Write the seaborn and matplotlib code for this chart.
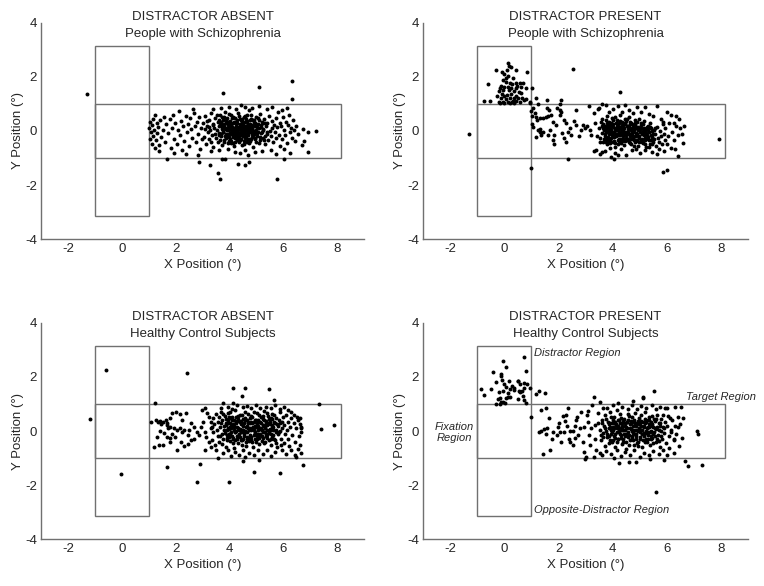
import pandas as pd
import matplotlib
matplotlib.use("Agg")
import matplotlib.pyplot as plt
import seaborn as sns
from matplotlib.patches import Rectangle

# ---- data (degrees of visual angle) ----
panel_titles = [
    ("DISTRACTOR ABSENT", "People with Schizophrenia"),
    ("DISTRACTOR PRESENT", "People with Schizophrenia"),
    ("DISTRACTOR ABSENT", "Healthy Control Subjects"),
    ("DISTRACTOR PRESENT", "Healthy Control Subjects"),
]
x_ticks = [-2, 0, 2, 4, 6, 8]
y_ticks = [-4, -2, 0, 2, 4]

# schizophrenia, distractor absent
sz_absent_tail = [
    (1.02, 0.12), (1.04, -0.28), (1.06, 0.33), (1.08, -0.05), (1.11, -0.47), (1.13, 0.22), (1.15, 0.45),
    (1.17, -0.18), (1.2, 0.05), (1.22, -0.62), (1.24, 0.58), (1.27, -0.35), (1.29, 0.31), (1.31, -0.08),
    (1.36, 0.14), (1.4, -0.52), (1.43, 0.4), (1.47, -0.22), (1.52, 0.03), (1.58, 0.52), (1.62, -0.4),
    (1.66, 0.25), (1.72, -0.08), (1.78, 0.43), (1.82, -0.63), (1.86, 0.1), (1.91, 0.6), (1.95, -0.28),
    (1.99, 0.3), (2.04, -0.5), (2.08, 0.05), (2.12, 0.73), (2.16, -0.15), (2.2, 0.38), (2.25, -0.7),
    (2.29, 0.17), (2.33, -0.36), (2.37, 0.55), (2.42, -0.02), (2.46, 0.27), (2.5, -0.55), (2.55, 0.47),
    (2.58, 0.08), (2.62, -0.25), (2.67, 0.65), (2.71, 0.18), (2.75, -0.42), (2.79, 0.35), (2.83, -0.12),
    (2.87, 0.52), (2.91, -0.68), (2.95, 0.1), (2.98, -0.3), (1.4, -0.75), (1.95, -0.82), (2.4, -0.85),
    (2.65, 0.82),
]
sz_absent_core = [
    (3.02, 0.31), (3.05, -0.22), (3.08, 0.08), (3.11, 0.55), (3.14, -0.47), (3.17, 0.19), (3.2, -0.05),
    (3.23, 0.42), (3.26, -0.31), (3.29, 0.02), (3.32, 0.66), (3.35, -0.14), (3.38, 0.27), (3.41, -0.58),
    (3.44, 0.11), (3.47, 0.48), (3.5, -0.26), (3.53, 0.04), (3.56, 0.35), (3.59, -0.41), (3.61, 0.18),
    (3.63, -0.08), (3.66, 0.59), (3.68, 0.25), (3.7, -0.19), (3.72, 0.07), (3.74, -0.52), (3.76, 0.41),
    (3.78, -0.03), (3.8, 0.16), (3.82, -0.33), (3.84, 0.71), (3.86, 0.29), (3.88, -0.11), (3.9, 0.02),
    (3.92, 0.47), (3.94, -0.45), (3.96, 0.21), (3.98, -0.24), (4.0, 0.1), (4.02, 0.36), (4.04, -0.06),
    (4.06, 0.6), (4.08, -0.37), (4.1, 0.14), (4.12, -0.16), (4.14, 0.3), (4.16, 0.03), (4.18, -0.55),
    (4.2, 0.49), (4.22, -0.27), (4.24, 0.19), (4.26, -0.02), (4.28, 0.39), (4.3, -0.13), (4.32, 0.08),
    (4.34, 0.68), (4.36, -0.4), (4.38, 0.25), (4.4, -0.07), (4.42, 0.12), (4.44, -0.31), (4.46, 0.44),
    (4.48, 0.0), (4.5, -0.2), (4.52, 0.3), (4.54, 0.06), (4.56, -0.48), (4.58, 0.55), (4.6, -0.1),
    (4.62, 0.2), (4.64, -0.28), (4.66, 0.37), (4.68, 0.04), (4.7, -0.15), (4.72, 0.78), (4.74, 0.15),
    (4.76, -0.36), (4.78, 0.27), (4.8, -0.04), (4.82, 0.46), (4.84, -0.22), (4.86, 0.09), (4.88, -0.6),
    (4.9, 0.33), (4.92, -0.09), (4.94, 0.18), (4.96, -0.3), (4.98, 0.52), (5.0, 0.03), (5.03, -0.17),
    (5.06, 0.26), (5.09, -0.43), (5.12, 0.11), (5.15, 0.62), (5.18, -0.07), (5.21, 0.35), (5.24, -0.25),
    (5.27, 0.05), (5.3, 0.44), (5.33, -0.5), (5.36, 0.17), (5.39, -0.12), (5.42, 0.28), (5.45, -0.33),
    (5.48, 0.57), (5.51, 0.0), (5.54, -0.2), (5.57, 0.38), (5.6, 0.1), (5.63, -0.41), (5.66, 0.22),
    (5.69, -0.05), (5.72, 0.47), (5.75, -0.27), (5.78, 0.14), (5.81, 0.7), (5.84, -0.14), (5.87, 0.3),
    (5.9, -0.55),
    (3.62, 0.42), (3.67, -0.33), (3.71, 0.13), (3.75, -0.04), (3.79, 0.52), (3.83, 0.09), (3.87, -0.27),
    (3.91, 0.33), (3.95, -0.12), (3.99, 0.62), (4.03, 0.2), (4.07, -0.44), (4.11, 0.04), (4.15, 0.51),
    (4.19, -0.09), (4.23, 0.28), (4.27, -0.35), (4.31, 0.15), (4.35, -0.18), (4.39, 0.45), (4.43, 0.05),
    (4.47, -0.52), (4.51, 0.22), (4.55, -0.03), (4.59, 0.34), (4.63, -0.2), (4.67, 0.6), (4.71, 0.08),
    (4.75, -0.45), (4.79, 0.19), (4.83, -0.11), (4.87, 0.39), (4.91, 0.01), (4.95, -0.25), (4.99, 0.24),
    (5.04, -0.08), (5.08, 0.49), (5.13, -0.32), (5.17, 0.16), (5.22, -0.02), (5.26, 0.31), (5.31, -0.18),
    (3.55, 0.6), (3.48, -0.1), (3.4, 0.22), (3.33, -0.4), (3.25, 0.15), (3.18, 0.38),
    (3.81, 0.24), (3.85, -0.18), (3.89, 0.4), (3.93, 0.06), (3.97, -0.36), (4.01, 0.28), (4.05, -0.1),
    (4.09, 0.48), (4.13, -0.23), (4.17, 0.12), (4.21, -0.42), (4.25, 0.33), (4.29, 0.02), (4.33, -0.26),
    (4.37, 0.56), (4.41, 0.19), (4.45, -0.14), (4.49, 0.38), (4.53, -0.38), (4.57, 0.13), (4.61, 0.43),
    (4.65, -0.07), (4.69, 0.26), (4.73, -0.3), (4.77, 0.04), (4.81, 0.58), (4.85, 0.21), (4.89, -0.16),
    (4.93, 0.42), (4.97, -0.02),
    (5.93, 0.18), (5.96, -0.3), (6.0, 0.5), (6.03, 0.05), (6.06, -0.15), (6.1, 0.35), (6.14, -0.45),
    (6.18, 0.22), (6.22, 0.6), (6.26, -0.05), (6.3, 0.12), (6.34, -0.25), (6.38, 0.4), (6.42, 0.05),
    (6.46, -0.38), (6.5, 0.18), (6.55, -0.1), (6.75, 0.07), (6.91, -0.05), (7.22, -0.01), (6.91, -0.76),
    (6.79, -0.36), (6.69, -0.52), (6.05, -0.65), (6.25, -0.8), (5.95, 0.78), (6.15, 0.85),
    (3.6, -0.72), (3.95, -0.68), (4.22, -0.76), (4.4, -0.82), (4.6, -0.7), (4.95, -0.78), (5.2, -0.74),
    (5.55, -0.7), (5.75, -0.86), (3.3, -0.75), (2.85, -0.88), (4.7, -0.9),
    (3.7, 0.85), (4.0, 0.9), (4.25, 0.82), (4.45, 0.95), (4.6, 0.9), (4.85, 0.86), (5.1, 0.92),
    (5.4, 0.8), (5.6, 0.88), (3.4, 0.8),
]
sz_absent_dense = [
    (3.64, 0.3), (3.69, -0.12), (3.73, 0.5), (3.77, 0.2), (3.81, -0.4), (3.86, 0.1), (3.9, -0.2),
    (3.94, 0.35), (3.98, 0.05), (4.02, -0.3), (4.06, 0.22), (4.1, -0.02), (4.14, -0.45), (4.18, 0.35),
    (4.22, 0.06), (4.26, -0.2), (4.3, 0.28), (4.34, -0.05), (4.38, -0.35), (4.42, 0.4), (4.46, 0.15),
    (4.5, -0.08), (4.54, 0.5), (4.58, -0.25), (4.62, 0.02), (4.66, -0.42), (4.7, 0.25), (4.74, -0.02),
    (4.78, 0.42), (4.82, -0.3), (4.86, 0.12), (4.9, -0.12), (4.94, 0.3), (4.98, -0.4), (5.02, 0.15),
    (5.06, -0.05), (5.1, 0.4), (5.14, -0.22), (5.19, 0.22), (5.24, 0.08), (5.29, -0.35), (5.34, 0.3),
    (5.4, -0.02), (3.6, -0.15), (3.7, 0.35), (4.44, 0.25), (4.64, 0.1), (4.84, -0.02), (4.04, 0.12),
    (4.24, -0.1),
]
sz_absent_out = [
    (-1.3, 1.35), (3.75, 1.4), (5.12, 1.64), (6.33, 1.86), (6.32, 1.17), (1.69, -1.05), (2.86, -1.13),
    (3.27, -1.26), (3.56, -1.54), (3.67, -1.79), (5.76, -1.79), (4.31, -1.23), (4.57, -1.26),
    (4.72, -1.15), (3.73, -1.05), (3.85, -1.05), (6.04, -1.02),
]

# schizophrenia, distractor present
sz_present_distr = [
    (0.14, 2.51), (0.23, 2.38), (0.1, 2.26), (-0.09, 2.2), (-0.33, 2.25), (0.41, 2.25), (0.84, 2.2),
    (0.0, 2.1), (0.12, 2.05), (0.06, 1.95), (0.33, 1.95), (-0.62, 1.73), (0.19, 1.79), (0.41, 1.79),
    (0.56, 1.79), (0.7, 1.79), (-0.12, 1.68), (0.0, 1.64), (-0.15, 1.58), (0.25, 1.58), (0.43, 1.58),
    (0.62, 1.62), (0.78, 1.6), (1.02, 1.58), (-0.06, 1.51), (0.16, 1.51), (0.37, 1.48), (0.53, 1.46),
    (-0.28, 1.31), (-0.09, 1.36), (0.09, 1.33), (0.25, 1.36), (0.43, 1.31), (0.65, 1.23), (-0.12, 1.21),
    (0.04, 1.19), (0.19, 1.21), (0.35, 1.23), (0.49, 1.21), (0.8, 1.17), (-0.21, 1.09), (-0.06, 1.06),
    (0.12, 1.09), (0.28, 1.06), (0.43, 1.11), (0.58, 1.09), (0.74, 1.15), (0.93, 1.09), (-0.75, 1.11),
    (-0.53, 1.11), (1.17, 1.23), (0.96, 1.04), (-0.16, 1.02), (0.0, 1.02), (0.21, 1.02), (0.37, 1.02),
    (0.06, 1.83), (0.28, 1.73), (-0.06, 1.89), (0.47, 1.68), (-0.21, 1.48), (0.18, 2.4), (-0.02, 1.3),
    (0.3, 1.12), (0.6, 1.4), (0.15, 1.62),
]
sz_present_target = [
    (1.05, 0.84), (1.23, 0.99), (1.57, 1.14), (2.09, 1.15), (2.06, 0.99), (1.0, 0.74), (1.02, 0.57),
    (1.12, 0.65), (1.02, 0.25), (1.07, 0.16), (1.17, 0.53), (1.23, 0.04), (1.32, -0.05), (1.17, -0.21),
    (1.3, 0.47), (1.44, 0.47), (1.52, 0.53), (1.6, 0.57), (1.73, 0.59), (1.57, 0.84), (1.64, 0.78),
    (1.79, 0.35), (1.91, 0.22), (1.84, -0.15), (1.85, -0.49), (1.94, 0.84), (2.04, 0.59), (2.1, 0.69),
    (2.19, 0.41), (2.26, 0.28), (2.28, -0.42), (2.35, -0.02), (2.41, 0.12), (2.47, -0.15), (2.63, 0.78),
    (2.56, 0.37), (2.65, 0.22), (2.75, -0.17), (2.84, 0.04), (2.9, 0.22), (2.96, 0.12), (3.05, 0.2),
    (3.12, 0.94), (3.17, 0.04), (3.21, -0.15), (3.3, -0.74), (3.46, 0.81), (3.62, 0.99), (3.62, -0.77),
    (1.3, 0.07), (1.36, -0.15), (1.44, -0.05), (1.62, -0.15), (1.69, 0.04), (2.14, -0.09), (2.19, -0.25),
    (1.81, -0.33), (2.04, 0.78), (1.2, 0.4), (3.35, 0.3), (3.42, -0.2),
    (3.5, 0.1), (3.53, -0.25), (3.56, 0.32), (3.59, -0.08), (3.62, 0.18), (3.65, -0.4), (3.68, 0.05),
    (3.71, -0.18), (3.74, 0.42), (3.77, -0.02), (3.8, -0.5), (3.83, 0.22), (3.86, -0.12), (3.89, 0.08),
    (3.92, -0.33), (3.95, 0.3), (3.98, -0.05), (4.01, 0.13), (4.04, -0.24), (4.07, 0.52), (4.1, -0.6),
    (4.13, 0.02), (4.16, 0.27), (4.19, -0.15), (4.22, 0.1), (4.25, -0.38), (4.28, 0.38), (4.31, -0.08),
    (4.34, 0.16), (4.37, -0.28), (4.4, 0.05), (4.43, -0.52), (4.46, 0.25), (4.49, -0.12), (4.52, 0.44),
    (4.55, -0.02), (4.58, -0.3), (4.61, 0.14), (4.64, -0.45), (4.67, 0.3), (4.7, -0.15), (4.73, 0.03),
    (4.76, -0.25), (4.79, 0.2), (4.82, -0.4), (4.85, 0.1), (4.88, -0.08), (4.91, 0.35), (4.94, -0.55),
    (4.97, -0.18), (5.0, 0.08), (5.03, -0.32), (5.06, 0.22), (5.09, -0.1), (5.12, -0.45), (5.15, 0.12),
    (5.18, -0.25), (5.21, 0.02), (5.24, -0.6), (5.27, -0.15), (5.3, 0.2), (5.33, -0.35), (5.36, -0.05),
    (5.39, -0.5), (5.42, 0.1), (5.45, -0.22), (5.48, -0.4), (5.51, 0.05), (5.54, -0.3), (5.57, -0.12),
    (5.6, -0.55), (5.63, 0.15), (5.66, -0.25), (5.7, -0.42), (5.74, 0.0), (5.78, -0.2), (5.82, -0.5),
    (5.86, 0.25), (5.9, -0.1), (5.95, -0.35),
    (3.55, -0.42), (3.6, 0.45), (3.64, 0.12), (3.69, -0.3), (3.73, 0.2), (3.78, 0.55), (3.82, -0.22),
    (3.86, 0.35), (3.9, -0.45), (3.94, 0.05), (3.97, 0.48), (4.0, -0.14), (4.03, 0.25), (4.06, -0.36),
    (4.09, 0.08), (4.12, -0.2), (4.15, 0.42), (4.18, -0.5), (4.21, 0.18), (4.24, -0.05), (4.27, 0.6),
    (4.3, -0.3), (4.33, 0.0), (4.36, 0.32), (4.39, -0.2), (4.42, 0.12), (4.45, -0.38), (4.48, 0.38),
    (4.51, -0.25), (4.54, 0.2), (4.57, -0.08), (4.6, 0.5), (4.63, -0.18), (4.66, 0.05), (4.69, -0.5),
    (4.72, 0.24), (4.75, -0.05), (4.78, -0.35), (4.81, 0.4), (4.84, -0.2), (4.87, 0.15), (4.9, -0.32),
    (4.93, 0.02), (4.96, 0.45), (4.99, -0.42), (5.02, -0.05), (5.05, 0.3), (5.08, -0.28), (5.11, 0.0),
    (5.14, -0.15), (5.17, 0.38), (5.2, -0.48), (5.23, -0.08), (5.26, 0.15), (5.29, -0.3), (5.32, 0.05),
    (5.35, -0.6), (5.38, 0.28), (5.41, -0.15), (5.44, 0.0), (5.47, -0.5),
    (3.72, 0.08), (3.76, -0.28), (3.8, 0.3), (3.84, 0.0), (3.88, -0.38), (3.92, 0.18), (3.96, -0.15),
    (4.0, 0.4), (4.04, -0.02), (4.08, -0.45), (4.12, 0.3), (4.16, -0.1), (4.2, 0.05), (4.24, -0.3),
    (4.28, 0.15), (4.32, -0.45), (4.36, 0.22), (4.4, -0.12), (4.44, 0.45), (4.48, -0.02), (4.52, -0.35),
    (4.56, 0.18), (4.6, -0.1), (4.64, 0.35), (4.68, -0.28), (4.72, -0.08), (4.76, 0.15), (4.8, -0.55),
    (4.84, 0.28), (4.88, -0.2),
    (3.3, 0.65), (3.5, 0.85), (3.75, 0.95), (3.85, 0.72), (4.0, 0.8), (4.2, 0.92), (4.35, 0.7),
    (4.45, 0.95), (4.6, 0.78), (4.75, 0.65), (4.9, 0.88), (5.05, 0.7), (5.2, 0.9), (5.35, 0.62),
    (5.5, 0.55), (5.65, 0.92), (5.8, 0.45), (6.0, 0.7), (6.15, 0.6), (6.35, 0.55), (6.45, 0.45),
    (6.25, 0.3),
    (5.85, 0.35), (5.95, 0.12), (6.05, -0.2), (6.1, 0.3), (6.2, -0.05), (6.28, -0.35), (6.35, 0.2),
    (6.42, -0.15), (6.5, 0.1), (6.6, -0.45), (6.65, 0.2), (6.0, -0.5), (6.15, -0.62), (5.7, -0.68),
    (6.3, -0.65), (6.55, -0.1),
    (3.4, -0.7), (3.7, -0.75), (3.9, -0.62), (4.1, -0.8), (4.3, -0.68), (4.5, -0.88), (4.7, -0.72),
    (4.85, -0.65), (5.0, -0.82), (5.2, -0.7), (5.45, -0.78), (5.65, -0.85), (5.9, -0.75), (4.2, -0.9),
    (3.55, -0.85),
]
sz_present_dense = [
    (3.66, 0.25), (3.7, -0.1), (3.75, -0.4), (3.79, 0.12), (3.83, -0.3), (3.87, 0.2), (3.91, -0.05),
    (3.95, -0.25), (3.99, 0.22), (4.03, -0.42), (4.07, 0.1), (4.11, -0.12), (4.15, 0.15), (4.19, -0.32),
    (4.23, 0.28), (4.27, -0.15), (4.31, 0.08), (4.35, -0.38), (4.39, 0.18), (4.43, -0.02), (4.47, 0.3),
    (4.51, -0.15), (4.55, 0.08), (4.59, -0.42), (4.63, 0.25), (4.67, -0.12), (4.71, 0.1), (4.75, -0.3),
    (4.79, 0.02), (4.83, 0.22), (4.87, -0.38), (4.91, -0.1), (4.95, 0.15), (4.99, -0.25), (5.03, 0.12),
    (5.07, -0.4), (5.11, 0.25), (5.15, -0.05), (5.19, -0.32), (5.25, 0.08), (5.31, -0.22), (5.37, 0.15),
    (5.43, -0.35), (5.5, -0.12), (5.56, 0.1),
]
sz_present_out = [
    (-1.3, -0.1), (0.99, -1.36), (2.52, 2.28), (4.28, 1.45), (7.94, -0.29), (5.87, -1.52), (6.0, -1.45),
    (2.36, -1.05), (3.93, -0.97), (4.04, -1.05), (6.41, -0.93),
]

# healthy controls, distractor absent
hc_absent_tail = [
    (1.07, 0.35), (1.26, 0.41), (1.35, 0.32), (1.42, 0.37), (1.47, 0.26), (1.54, 0.33), (1.63, 0.41),
    (1.69, 0.31), (1.81, 0.47), (1.88, 0.65), (2.0, 0.72), (2.16, 0.63), (2.25, 0.41), (2.37, 0.68),
    (1.67, 0.22), (1.73, 0.1), (1.81, 0.16), (1.94, 0.1), (2.06, 0.04), (2.16, 0.1), (2.25, -0.02),
    (2.33, 0.04), (1.88, -0.11), (1.96, -0.23), (1.81, -0.27), (1.69, -0.21), (1.57, -0.06),
    (1.42, 0.01), (1.3, -0.23), (1.2, -0.58), (1.38, -0.52), (1.54, -0.52), (1.79, -0.4), (2.06, -0.7),
    (2.31, -0.56), (2.46, -0.48), (2.19, -0.4), (2.56, -0.33), (2.47, -0.15), (2.49, 0.04), (2.56, 0.28),
    (2.68, 0.16), (2.78, -0.02), (2.86, -0.15), (2.7, -0.31), (2.93, 0.16), (3.02, 0.35), (3.0, 0.78),
    (3.09, 0.86), (3.17, 0.65), (3.23, 0.51), (3.3, 0.35), (3.36, 0.16), (3.11, -0.02), (3.15, -0.23),
    (3.23, -0.4), (3.31, -0.58), (3.11, -0.7), (3.57, -0.99), (3.77, 1.02), (4.14, 1.02),
]
hc_absent_core = [
    (3.32, 0.12), (3.35, -0.35), (3.38, 0.48), (3.41, -0.05), (3.44, 0.25), (3.47, -0.52), (3.5, 0.62),
    (3.53, 0.02), (3.56, -0.2), (3.59, 0.35), (3.62, -0.42), (3.65, 0.15), (3.68, 0.72), (3.71, -0.1),
    (3.74, 0.4), (3.77, -0.3), (3.8, 0.05), (3.83, 0.55), (3.86, -0.58), (3.89, 0.22), (3.92, -0.15),
    (3.95, 0.65), (3.98, 0.08), (4.01, -0.38), (4.04, 0.3), (4.07, -0.02), (4.1, 0.5), (4.13, -0.25),
    (4.16, 0.18), (4.19, -0.62), (4.22, 0.78), (4.25, 0.0), (4.28, 0.38), (4.31, -0.45), (4.34, 0.12),
    (4.37, -0.12), (4.4, 0.6), (4.43, 0.25), (4.46, -0.32), (4.49, 0.05), (4.52, 0.45), (4.55, -0.18),
    (4.58, 0.7), (4.61, -0.55), (4.64, 0.2), (4.67, -0.05), (4.7, 0.35), (4.73, -0.38), (4.76, 0.1),
    (4.79, 0.55), (4.82, -0.22), (4.85, 0.28), (4.88, -0.6), (4.91, 0.02), (4.94, 0.42), (4.97, -0.3),
    (5.0, 0.15), (5.03, 0.68), (5.06, -0.1), (5.09, 0.32), (5.12, -0.48), (5.15, 0.08), (5.18, 0.5),
    (5.21, -0.2), (5.24, 0.22), (5.27, -0.02), (5.3, 0.75), (5.33, -0.4), (5.36, 0.38), (5.39, 0.05),
    (5.42, -0.25), (5.45, 0.55), (5.48, -0.08), (5.51, 0.25), (5.54, -0.5), (5.57, 0.12), (5.6, 0.62),
    (5.63, -0.15), (5.66, 0.35), (5.69, -0.35), (5.72, 0.02), (5.75, 0.48), (5.78, -0.6), (5.81, 0.2),
    (5.84, -0.05), (5.87, 0.7), (5.9, 0.3), (5.93, -0.28), (5.96, 0.1), (5.99, 0.5), (6.02, -0.45),
    (6.05, 0.22), (6.08, -0.1), (6.11, 0.6), (6.14, 0.05), (6.17, -0.3), (6.2, 0.35), (6.23, -0.55),
    (6.26, 0.15), (6.3, 0.48), (6.35, -0.15), (6.4, 0.28), (6.45, -0.4), (6.5, 0.1), (6.55, 0.4),
    (6.6, -0.2), (6.64, 0.25), (6.62, -0.5), (6.65, 0.12),
    (3.6, 0.5), (3.64, -0.18), (3.68, 0.28), (3.72, -0.48), (3.76, 0.62), (3.8, 0.18), (3.84, -0.08),
    (3.88, 0.45), (3.92, -0.35), (3.96, 0.3), (4.0, -0.12), (4.04, 0.7), (4.08, 0.12), (4.12, -0.45),
    (4.16, 0.42), (4.2, -0.05), (4.24, 0.28), (4.28, -0.3), (4.32, 0.55), (4.36, 0.05), (4.4, -0.22),
    (4.44, 0.38), (4.48, -0.5), (4.52, 0.18), (4.56, -0.02), (4.6, 0.48), (4.64, -0.3), (4.68, 0.62),
    (4.72, 0.08), (4.76, -0.15), (4.8, 0.32), (4.84, -0.42), (4.88, 0.15), (4.92, 0.72), (4.96, -0.08),
    (5.0, 0.4), (5.04, -0.3), (5.08, 0.2), (5.12, 0.58), (5.16, -0.15), (5.2, 0.05), (5.24, 0.45),
    (5.28, -0.45), (5.32, 0.18), (5.36, -0.1), (5.4, 0.65), (5.44, 0.3), (5.48, -0.35), (5.52, 0.02),
    (5.56, 0.48), (5.6, -0.22), (5.64, 0.15), (5.68, 0.58), (5.72, -0.45), (5.76, 0.25), (5.8, -0.12),
    (5.84, 0.42), (5.88, 0.0), (5.92, -0.5), (5.96, 0.32),
    (3.9, 0.02), (3.94, 0.4), (3.98, -0.22), (4.02, 0.15), (4.06, 0.48), (4.1, -0.18), (4.14, 0.25),
    (4.18, 0.02), (4.22, -0.35), (4.26, 0.5), (4.3, 0.15), (4.34, -0.18), (4.38, 0.32), (4.42, -0.05),
    (4.46, 0.6), (4.5, -0.28), (4.54, 0.28), (4.58, 0.0), (4.62, -0.4), (4.66, 0.42), (4.7, 0.12),
    (4.74, -0.25), (4.78, 0.3), (4.82, 0.05), (4.86, 0.5), (4.9, -0.15), (4.94, 0.2), (4.98, -0.42),
    (5.02, 0.28), (5.06, 0.05), (5.1, -0.25), (5.14, 0.35), (5.18, 0.1), (5.22, -0.38), (5.26, 0.55),
    (5.3, 0.2), (5.34, -0.05), (5.38, 0.3), (5.42, -0.15), (5.46, 0.45), (5.5, 0.08), (5.54, -0.3),
    (5.58, 0.22),
    (3.7, 0.85), (3.95, 0.9), (4.1, 0.82), (4.3, 0.95), (4.5, 0.88), (4.65, 0.92), (4.8, 0.85),
    (5.0, 0.95), (5.15, 0.85), (5.35, 0.9), (5.55, 0.85), (5.7, 0.95), (5.9, 0.82), (6.05, 0.9),
    (6.2, 0.78), (6.3, 0.7), (6.4, 0.6), (6.52, 0.5),
    (3.5, -0.7), (3.75, -0.8), (3.95, -0.72), (4.05, -0.92), (4.2, -0.78), (4.35, -0.88), (4.5, -0.7),
    (4.6, -0.95), (4.75, -0.8), (4.9, -0.88), (5.05, -0.72), (5.25, -0.85), (5.4, -0.7), (5.55, -0.92),
    (5.7, -0.78), (5.95, -0.7), (6.1, -0.85), (6.3, -0.72), (6.45, -0.9), (6.55, -0.65),
    (6.63, 0.47), (6.65, 0.16), (6.65, -0.03),
]
hc_absent_dense = [
    (3.86, 0.3), (3.9, -0.25), (3.94, 0.1), (3.98, 0.52), (4.02, -0.1), (4.06, 0.2), (4.1, 0.4),
    (4.14, -0.3), (4.18, 0.15), (4.22, -0.05), (4.26, 0.32), (4.3, -0.2), (4.34, 0.45), (4.38, 0.08),
    (4.42, -0.32), (4.46, 0.25), (4.5, 0.05), (4.54, -0.12), (4.58, 0.4), (4.62, 0.15), (4.66, -0.22),
    (4.7, 0.28), (4.74, 0.02), (4.78, 0.48), (4.82, -0.32), (4.86, 0.1), (4.9, 0.35), (4.94, -0.05),
    (4.98, 0.18), (5.02, -0.2), (5.06, 0.42), (5.1, 0.1), (5.14, -0.1), (5.18, 0.28), (5.22, 0.02),
    (5.26, -0.25), (5.3, 0.4), (5.34, 0.12), (5.38, -0.18), (5.42, 0.22), (5.46, 0.0), (5.5, 0.35),
    (5.54, -0.1), (5.58, 0.45), (5.62, 0.05), (5.66, -0.3), (5.7, 0.3), (5.74, -0.02),
]
hc_absent_out = [
    (-1.17, 0.46), (-0.59, 2.26), (-0.02, -1.6), (2.44, 2.16), (4.14, 1.6), (4.6, 1.6), (5.46, 1.55),
    (4.47, 1.29), (5.68, 1.16), (7.33, 1.0), (7.4, 0.07), (7.91, 0.23), (1.22, 1.02), (1.67, -1.32),
    (2.9, -1.22), (2.81, -1.87), (3.97, -1.87), (4.9, -1.5), (5.88, -1.55), (6.75, -1.25), (6.67, -0.8),
    (6.5, -0.98), (5.12, -1.09), (4.5, -1.1),
]

# healthy controls, distractor present
hc_present_distr = [
    (-0.04, 2.59), (0.71, 2.72), (-0.43, 2.2), (0.06, 2.35), (0.78, 2.22), (-0.11, 2.1), (-0.85, 1.56),
    (-0.74, 1.33), (-0.49, 1.57), (-0.33, 1.83), (-0.1, 1.88), (-0.02, 1.73), (0.16, 1.85), (-0.06, 1.48),
    (0.06, 1.64), (0.22, 1.54), (0.34, 1.6), (0.36, 1.52), (0.49, 1.85), (0.56, 1.73), (0.72, 1.76),
    (0.73, 1.6), (0.65, 1.48), (0.83, 1.73), (0.95, 1.58), (-0.18, 1.23), (-0.23, 1.18), (-0.12, 1.09),
    (-0.33, 1.01), (-0.18, 1.01), (-0.04, 1.09), (0.06, 1.23), (0.14, 1.27), (0.49, 1.17), (0.68, 1.31),
    (0.74, 1.16), (0.78, 1.02), (0.59, 1.43), (1.17, 1.36), (1.26, 1.48), (1.5, 1.4), (1.0, 0.53),
    (1.35, 0.79), (1.52, 0.84), (-0.12, 2.04), (0.5, 1.86), (0.55, 1.49), (0.21, 1.25), (0.01, 1.05),
    (-0.19, 1.46), (0.12, 1.39), (0.29, 1.66),
]
hc_present_target = [
    (1.26, -0.05), (1.36, 0.0), (1.48, 0.07), (1.57, 0.12), (1.64, 0.47), (1.54, -0.1), (1.42, -0.86),
    (1.67, -0.69), (1.98, 0.16), (1.81, -0.05), (1.94, -0.15), (2.04, -0.02), (2.1, -0.42), (2.16, 0.57),
    (2.28, 0.59), (2.25, 0.38), (2.36, 0.84), (2.41, 0.0), (2.38, -0.3), (2.44, -0.42), (2.53, -0.52),
    (2.59, 0.2), (2.65, 0.41), (2.72, -0.15), (2.84, 0.69), (2.81, 0.1), (2.9, -0.4), (2.93, -0.79),
    (3.0, -0.95), (3.05, 0.59), (3.09, 0.35), (3.12, -0.15), (3.17, -0.52), (3.25, 0.96), (3.33, 0.22),
    (3.4, -0.7), (3.46, 0.65), (3.56, -0.15), (3.62, -0.89), (3.64, 0.84), (2.2, -0.05),
    (2.0, 0.3), (2.55, 0.0), (2.7, 0.5), (2.95, 0.15), (3.2, 0.1), (3.35, -0.3), (3.45, 0.3),
    (2.6, -0.25), (3.1, 0.75), (2.3, 0.2), (1.75, -0.3),
    (3.55, 0.05), (3.58, -0.35), (3.61, 0.42), (3.64, -0.08), (3.67, 0.2), (3.7, -0.55), (3.73, 0.6),
    (3.76, 0.0), (3.79, -0.22), (3.82, 0.35), (3.85, -0.45), (3.88, 0.12), (3.91, 0.7), (3.94, -0.12),
    (3.97, 0.3), (4.0, -0.32), (4.03, 0.05), (4.06, 0.5), (4.09, -0.6), (4.12, 0.22), (4.15, -0.05),
    (4.18, 0.4), (4.21, -0.28), (4.24, 0.1), (4.27, 0.62), (4.3, -0.15), (4.33, 0.28), (4.36, -0.48),
    (4.39, 0.02), (4.42, 0.45), (4.45, -0.2), (4.48, 0.15), (4.51, -0.65), (4.54, 0.32), (4.57, -0.05),
    (4.6, 0.55), (4.63, -0.35), (4.66, 0.08), (4.69, 0.38), (4.72, -0.18), (4.75, 0.2), (4.78, -0.52),
    (4.81, 0.02), (4.84, 0.65), (4.87, -0.1), (4.9, 0.3), (4.93, -0.4), (4.96, 0.12), (4.99, 0.48),
    (5.02, -0.22), (5.05, 0.05), (5.08, -0.58), (5.11, 0.35), (5.14, -0.08), (5.17, 0.2), (5.2, 0.72),
    (5.23, -0.3), (5.26, 0.1), (5.29, 0.42), (5.32, -0.15), (5.35, 0.25), (5.38, -0.5), (5.41, 0.0),
    (5.44, 0.55), (5.47, -0.25), (5.5, 0.15), (5.53, -0.05), (5.56, 0.38), (5.59, -0.42), (5.62, 0.08),
    (5.65, 0.6), (5.68, -0.15), (5.71, 0.28), (5.74, -0.6), (5.77, 0.0), (5.8, 0.45), (5.83, -0.3),
    (5.86, 0.15), (5.9, -0.08), (5.94, 0.35), (5.98, -0.45), (6.02, 0.2), (6.06, 0.55), (6.1, -0.2),
    (6.15, 0.05), (6.2, 0.4), (6.25, -0.35), (6.3, 0.2), (6.35, -0.1), (6.4, 0.5),
    (3.6, 0.28), (3.65, -0.22), (3.7, 0.12), (3.75, 0.45), (3.8, -0.1), (3.85, 0.25), (3.9, -0.35),
    (3.95, 0.5), (4.0, 0.15), (4.05, -0.18), (4.1, 0.35), (4.15, -0.42), (4.2, 0.2), (4.25, -0.05),
    (4.3, 0.48), (4.35, 0.1), (4.4, -0.3), (4.45, 0.3), (4.5, -0.1), (4.55, 0.62), (4.6, -0.5),
    (4.65, 0.25), (4.7, 0.0), (4.75, -0.35), (4.8, 0.4), (4.85, -0.2), (4.9, 0.05), (4.95, -0.55),
    (5.0, 0.3), (5.05, 0.6), (5.1, -0.12), (5.15, 0.15), (5.2, -0.4), (5.25, 0.32), (5.3, -0.02),
    (5.35, 0.52), (5.4, -0.2), (5.45, 0.25), (5.5, -0.45), (5.55, 0.1), (5.6, 0.45), (5.65, -0.28),
    (5.7, 0.05), (5.75, 0.3), (5.8, -0.18), (5.85, 0.6), (5.9, 0.1),
    (3.9, 0.15), (3.98, -0.05), (4.04, 0.28), (4.1, -0.25), (4.16, 0.1), (4.22, 0.4), (4.28, -0.12),
    (4.34, 0.2), (4.4, -0.42), (4.46, 0.05), (4.52, 0.35), (4.58, -0.22), (4.64, 0.12), (4.7, 0.5),
    (4.76, -0.08), (4.82, 0.25), (4.88, -0.3), (4.94, 0.38), (5.0, -0.05), (5.06, 0.2), (5.12, -0.35),
    (5.18, 0.45), (5.24, 0.0), (5.3, -0.28), (5.36, 0.15), (5.42, 0.35), (5.48, -0.12),
    (3.8, 0.85), (4.0, 0.95), (4.15, 0.78), (4.35, 0.9), (4.55, 0.82), (4.7, 0.95), (4.9, 0.8),
    (5.05, 0.92), (5.25, 0.85), (5.45, 0.95), (5.6, 0.8), (5.75, 0.9), (6.0, 0.85), (6.31, 0.9),
    (6.51, 0.9), (6.6, 0.47), (6.42, 0.16), (6.57, -0.27), (6.27, -0.31), (6.17, -0.02), (6.09, -0.64),
    (6.11, 0.47), (5.93, 0.86), (6.45, -0.55), (6.5, 0.25), (4.2, 1.05), (4.75, 1.1),
    (3.75, -0.75), (3.95, -0.85), (4.15, -0.7), (4.3, -0.92), (4.45, -0.78), (4.65, -0.88), (4.8, -0.72),
    (5.0, -0.95), (5.15, -0.8), (5.35, -0.9), (5.5, -0.75), (5.7, -0.85), (5.85, -0.72), (6.0, -0.9),
    (6.25, -0.8), (3.55, -0.8), (3.3, -0.95), (4.05, -1.0),
]
hc_present_dense = [
    (3.86, -0.2), (3.9, 0.3), (3.94, 0.02), (3.98, -0.4), (4.02, 0.4), (4.06, 0.1), (4.1, -0.1),
    (4.14, 0.25), (4.18, -0.3), (4.22, 0.0), (4.26, 0.3), (4.3, -0.25), (4.34, 0.05), (4.38, 0.38),
    (4.42, -0.1), (4.46, 0.2), (4.5, -0.4), (4.54, 0.1), (4.58, 0.42), (4.62, -0.15), (4.66, 0.3),
    (4.7, -0.25), (4.74, 0.05), (4.78, 0.32), (4.82, -0.12), (4.86, 0.18), (4.9, -0.45), (4.94, 0.0),
    (4.98, 0.25), (5.02, -0.3), (5.06, 0.38), (5.1, 0.05), (5.14, -0.2), (5.18, 0.28), (5.22, -0.08),
    (5.26, -0.42), (5.3, 0.15), (5.34, 0.4), (5.38, -0.05), (5.42, -0.3), (5.46, 0.2), (5.52, 0.45),
    (5.58, -0.2), (5.64, 0.15), (5.7, -0.38), (5.76, 0.18),
]
hc_present_out = [
    (3.3, 1.27), (3.52, 1.09), (5.53, 1.48), (5.12, 1.27), (5.12, 1.21), (7.1, 0.0), (7.17, -0.11),
    (6.67, -1.11), (6.77, -1.3), (5.62, -2.27), (4.23, -1.2), (4.6, -1.16), (4.85, -1.16), (5.37, -1.04),
    (5.9, -1.07), (2.96, -1.04), (7.31, -1.26),
]

panel_points = [
    sz_absent_tail + sz_absent_core + sz_absent_dense + sz_absent_out,
    sz_present_distr + sz_present_target + sz_present_dense + sz_present_out,
    hc_absent_tail + hc_absent_core + hc_absent_dense + hc_absent_out,
    hc_present_distr + hc_present_target + hc_present_dense + hc_present_out,
]

# region labels on the last panel: (text, x, y, ha)
region_labels = [
    ("Distractor Region", 1.1, 2.88, "left"),
    ("Target Region", 6.7, 1.27, "left"),
    ("Fixation\nRegion", -1.85, -0.05, "center"),
    ("Opposite-Distractor Region", 1.1, -2.92, "left"),
]

GRAY = "#707070"


def draw_panel(ax, pts, title, subtitle):
    df = pd.DataFrame(pts, columns=["x", "y"])
    # fixation / distractor column and the horizontal target band
    ax.add_patch(Rectangle((-1, -3.15), 2, 6.3, fill=False, ec=GRAY, lw=1.0))
    ax.add_patch(Rectangle((-1, -1), 9.15, 2, fill=False, ec=GRAY, lw=1.0))
    sns.scatterplot(data=df, x="x", y="y", color="black", s=8, linewidth=0,
                    ax=ax, legend=False, zorder=3)
    ax.set_xlim(-3, 9)
    ax.set_ylim(-4, 4)
    ax.set_xticks(x_ticks)
    ax.set_yticks(y_ticks)
    ax.set_xlabel("X Position (°)", fontsize=9.5, labelpad=3)
    ax.set_ylabel("Y Position (°)", fontsize=9.5, labelpad=1)
    ax.tick_params(direction="in", length=3, width=0.8, color=GRAY, labelsize=9.5, pad=3)
    for side in ["top", "right"]:
        ax.spines[side].set_visible(False)
    for side in ["left", "bottom"]:
        ax.spines[side].set_color(GRAY)
        ax.spines[side].set_linewidth(1.0)
    ax.text(0.5, 1.028, title, transform=ax.transAxes, ha="center", va="center", fontsize=9.5)
    ax.text(0.5, 0.948, subtitle, transform=ax.transAxes, ha="center", va="center", fontsize=9.5)


sns.set_style("white")
plt.rcParams["font.family"] = ["Liberation Sans", "DejaVu Sans"]
plt.rcParams["axes.unicode_minus"] = False

fig = plt.figure(figsize=(7.64, 5.86), dpi=100)
boxes = [
    (0.054, 0.592, 0.422, 0.369),
    (0.554, 0.592, 0.425, 0.369),
    (0.054, 0.080, 0.422, 0.369),
    (0.554, 0.080, 0.425, 0.369),
]
for i, box in enumerate(boxes):
    ax = fig.add_axes(box)
    draw_panel(ax, panel_points[i], *panel_titles[i])
    if i == 3:
        for txt, x, y, ha in region_labels:
            ax.text(x, y, txt, ha=ha, va="center", fontsize=8, style="italic",
                    multialignment="center", clip_on=False)

fig.savefig("out.png", dpi=100)
